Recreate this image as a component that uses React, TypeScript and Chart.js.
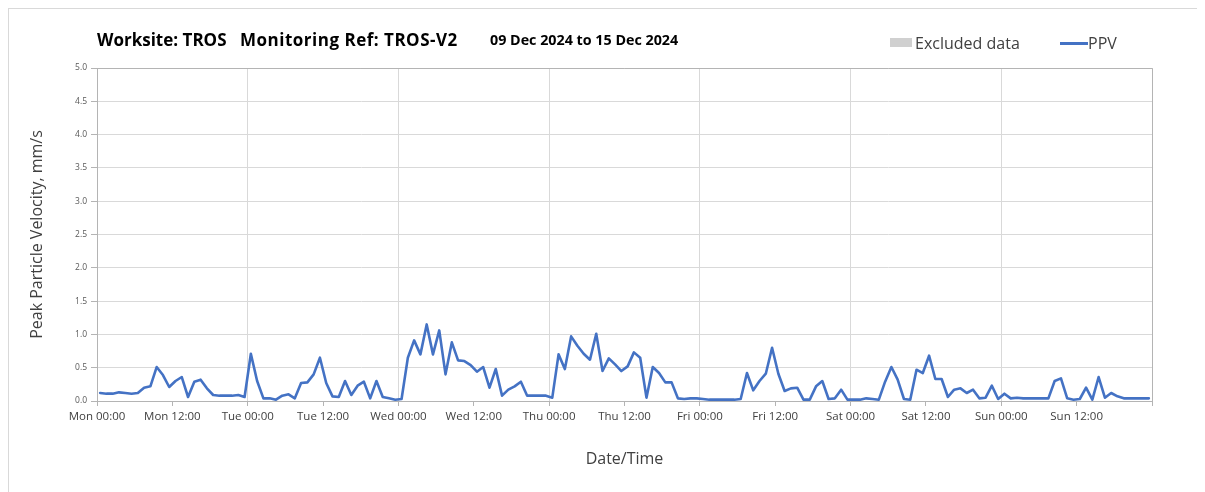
import React, { useEffect, useRef } from "react";
import { Chart, registerables } from "chart.js";

Chart.register(...registerables);

const dayNames = ["Mon", "Tue", "Wed", "Thu", "Fri", "Sat", "Sun"];
const tickHours = ["00:00", "12:00"];
const yTicks = [0, 0.5, 1, 1.5, 2, 2.5, 3, 3.5, 4, 4.5, 5];
const sampleOffsetHours = 0.5;

const titleParts = ["Worksite: TROS", "Monitoring Ref: TROS-V2", "09 Dec 2024 to 15 Dec 2024"];
const legendLabels = ["Excluded data", "PPV"];

// Hourly PPV readings (mm/s), Mon 00:00 .. Sun 23:00
const ppvMon = [0.12, 0.11, 0.11, 0.13, 0.12, 0.11, 0.12, 0.2, 0.22, 0.51, 0.39, 0.21, 0.3, 0.36, 0.06, 0.29, 0.32, 0.19, 0.09, 0.08, 0.08, 0.08, 0.09, 0.06];
const ppvTue = [0.71, 0.3, 0.04, 0.04, 0.02, 0.08, 0.1, 0.04, 0.27, 0.28, 0.4, 0.65, 0.27, 0.07, 0.06, 0.3, 0.09, 0.23, 0.29, 0.04, 0.3, 0.06, 0.04, 0.02];
const ppvWed = [0.03, 0.65, 0.91, 0.7, 1.15, 0.7, 1.06, 0.4, 0.88, 0.61, 0.6, 0.54, 0.44, 0.51, 0.2, 0.48, 0.08, 0.17, 0.22, 0.29, 0.08, 0.08, 0.08, 0.08];
const ppvThu = [0.05, 0.7, 0.48, 0.97, 0.83, 0.71, 0.62, 1.01, 0.45, 0.64, 0.55, 0.45, 0.52, 0.73, 0.65, 0.05, 0.51, 0.42, 0.28, 0.28, 0.04, 0.03, 0.04, 0.04];
const ppvFri = [0.03, 0.02, 0.02, 0.02, 0.02, 0.02, 0.03, 0.42, 0.16, 0.3, 0.41, 0.8, 0.41, 0.15, 0.19, 0.2, 0.02, 0.02, 0.22, 0.3, 0.03, 0.04, 0.17, 0.02];
const ppvSat = [0.02, 0.02, 0.04, 0.03, 0.02, 0.29, 0.51, 0.32, 0.03, 0.02, 0.47, 0.42, 0.68, 0.33, 0.33, 0.06, 0.17, 0.19, 0.12, 0.17, 0.04, 0.05, 0.23, 0.03];
const ppvSun = [0.11, 0.04, 0.05, 0.04, 0.04, 0.04, 0.04, 0.04, 0.3, 0.34, 0.04, 0.02, 0.03, 0.2, 0.02, 0.36, 0.05, 0.12, 0.07, 0.04, 0.04, 0.04, 0.04, 0.04];

const ppv = [...ppvMon, ...ppvTue, ...ppvWed, ...ppvThu, ...ppvFri, ...ppvSat, ...ppvSun];

const FONT = "'Open Sans', Lato, sans-serif";

const frameBorder = {
  id: "frameBorder",
  afterDraw(chart: any) {
    const { ctx, chartArea } = chart;
    ctx.save();
    ctx.strokeStyle = "#b4b4b4";
    ctx.lineWidth = 1;
    ctx.beginPath();
    ctx.moveTo(chartArea.left, chartArea.top + 0.5);
    ctx.lineTo(chartArea.right + 0.5, chartArea.top + 0.5);
    ctx.lineTo(chartArea.right + 0.5, chartArea.bottom);
    ctx.stroke();
    ctx.restore();
  },
};

export default function App() {
  const ref = useRef<HTMLCanvasElement | null>(null);

  useEffect(() => {
    document.body.style.overflow = "hidden";
    const data = ppv.map((v, i) => ({ x: i + sampleOffsetHours, y: v }));
    const chart = new Chart(ref.current as HTMLCanvasElement, {
      type: "line",
      data: {
        datasets: [
          {
            label: "PPV",
            data,
            borderColor: "#4472C4",
            borderWidth: 2.6,
            pointRadius: 0,
            tension: 0,
            borderJoinStyle: "round",
            borderCapStyle: "round",
            fill: false,
          },
        ],
      },
      options: {
        animation: false,
        responsive: false,
        maintainAspectRatio: false,
        layout: { padding: { left: 0, top: 59, right: 53, bottom: 0 } },
        plugins: { legend: { display: false }, title: { display: false }, tooltip: { enabled: false } },
        scales: {
          x: {
            type: "linear",
            min: 0,
            max: dayNames.length * 24,
            afterBuildTicks: (s: any) => {
              const t: any[] = [];
              for (let h = 0; h <= dayNames.length * 24; h += 12) t.push({ value: h });
              s.ticks = t;
            },
            afterFit: (s: any) => {
              s.height = 91;
            },
            ticks: {
              autoSkip: false,
              maxRotation: 0,
              minRotation: 0,
              padding: 4,
              color: "#404040",
              font: { family: FONT, size: 11.5 },
              callback: (v: any) => {
                const h = Number(v);
                const d = Math.floor(h / 24);
                if (d >= dayNames.length) return "";
                return dayNames[d] + " " + tickHours[(h % 24) / 12];
              },
            },
            grid: {
              color: (c: any) => (c.tick && c.tick.value % 24 === 0 ? "#d9d9d9" : "rgba(0,0,0,0)"),
              tickColor: "#b4b4b4",
              tickLength: 5,
              lineWidth: 1,
            },
            border: { display: true, color: "#b4b4b4" },
            title: {
              display: true,
              text: "Date/Time",
              color: "#404040",
              font: { family: FONT, size: 16 },
              padding: { top: 0, bottom: 23 },
            },
          },
          y: {
            min: 0,
            max: 5,
            afterBuildTicks: (s: any) => {
              s.ticks = yTicks.map((v) => ({ value: v }));
            },
            afterFit: (s: any) => {
              s.width = 88;
            },
            ticks: {
              padding: 4,
              color: "#595959",
              font: { family: FONT, size: 8.5 },
              callback: (v: any) => Number(v).toFixed(1),
            },
            grid: { color: "#d9d9d9", tickColor: "#b4b4b4", tickLength: 6, lineWidth: 1 },
            border: { display: true, color: "#b4b4b4" },
            title: {
              display: true,
              text: "Peak Particle Velocity, mm/s",
              color: "#404040",
              font: { family: FONT, size: 16 },
              padding: { top: 19, bottom: 0 },
            },
          },
        },
      },
      plugins: [frameBorder],
    } as any);
    return () => chart.destroy();
  }, []);

  const titleLefts = [88, 231, 481];
  const titleSizes = [17, 17, 14.3];
  const titleSpacing = [0, 0.5, 0];

  return (
    <div
      style={{
        position: "relative",
        width: 1197,
        height: 484,
        boxSizing: "border-box",
        borderTop: "1px solid #d9d9d9",
        borderLeft: "1px solid #d9d9d9",
        background: "#fff",
        fontFamily: FONT,
      }}
    >
      <canvas ref={ref} width={1196} height={483} style={{ position: "absolute", left: 0, top: 0, width: 1196, height: 483 }} />
      {titleParts.map((t, i) => (
        <div
          key={t}
          style={{
            position: "absolute",
            left: titleLefts[i],
            top: 21,
            fontSize: titleSizes[i],
            letterSpacing: titleSpacing[i],
            fontWeight: 700,
            color: "#000",
            whiteSpace: "pre",
            lineHeight: "20px",
          }}
        >
          {t}
        </div>
      ))}
      <div style={{ position: "absolute", left: 881, top: 29, width: 22, height: 9, background: "#d0d0d0" }} />
      <div style={{ position: "absolute", left: 906, top: 24, fontSize: 16, color: "#404040", lineHeight: "20px", whiteSpace: "pre" }}>
        {legendLabels[0]}
      </div>
      <div style={{ position: "absolute", left: 1051, top: 33, width: 28, height: 3, background: "#4472C4" }} />
      <div style={{ position: "absolute", left: 1079, top: 24, fontSize: 16, color: "#404040", lineHeight: "20px", whiteSpace: "pre" }}>
        {legendLabels[1]}
      </div>
    </div>
  );
}
